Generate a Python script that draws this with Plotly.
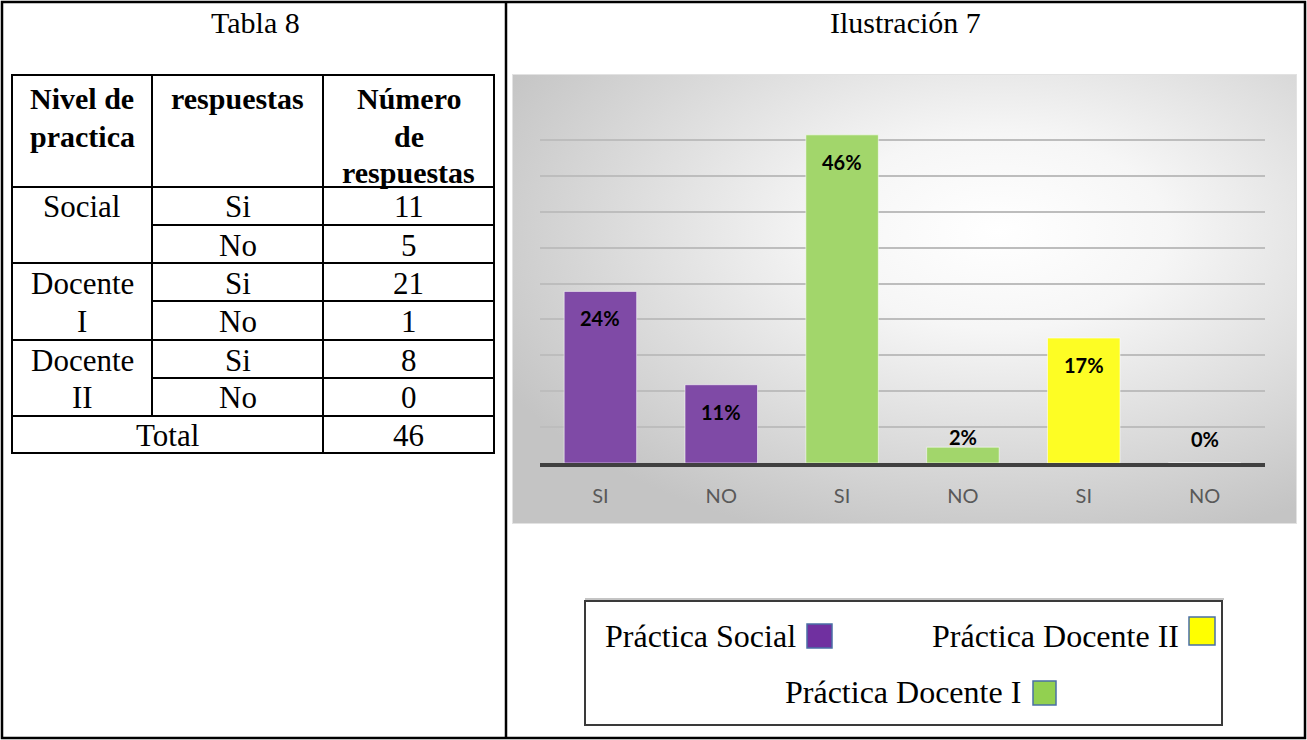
import base64
import plotly.graph_objects as go

# ---------------- data ----------------
tabla_titulo = "Tabla 8"
ilus_titulo = "Ilustración 7"
col_headers = [["Nivel de", "practica"], ["respuestas"], ["Número", "de", "respuestas"]]
niveles = [["Social"], ["Docente", "I"], ["Docente", "II"]]
respuestas = ["Si", "No", "Si", "No", "Si", "No"]
num_respuestas = [11, 5, 21, 1, 8, 0]
total_label = "Total"
total_value = 46

bar_labels = ["SI", "NO", "SI", "NO", "SI", "NO"]
bar_pct = [23.9, 10.9, 45.7, 2.2, 17.4, 0.0]
bar_series = ["Práctica Social", "Práctica Social", "Práctica Docente I",
              "Práctica Docente I", "Práctica Docente II", "Práctica Docente II"]
series_names = ["Práctica Social", "Práctica Docente I", "Práctica Docente II"]
bar_colors = ["#7F4AA6", "#A2D66B", "#FDFD24"]
legend_colors = ["#7030A0", "#92D050", "#FFFF00"]

# ---------------- helpers ----------------
W, H = 1307, 740
def X(p): return p / W
def Y(p): return 1 - p / H

SERIF = "Liberation Serif, Times New Roman, serif"
SANS = "Lato, Open Sans, sans-serif"

shapes, annos = [], []

def line(x0, y0, x1, y1, color="black", width=2):
    shapes.append(dict(type="line", xref="paper", yref="paper",
                       x0=X(x0), y0=Y(y0), x1=X(x1), y1=Y(y1),
                       line=dict(color=color, width=width)))

def rect(x0, y0, x1, y1, color="black", width=2, fill="rgba(0,0,0,0)"):
    shapes.append(dict(type="rect", xref="paper", yref="paper",
                       x0=X(x0), y0=Y(y0), x1=X(x1), y1=Y(y1),
                       line=dict(color=color, width=width), fillcolor=fill))

def text(s, x, y, size=30, bold=False, xanchor="center", family=SERIF, color="black"):
    annos.append(dict(xref="paper", yref="paper", x=X(x), y=Y(y), text=(f"<b>{s}</b>" if bold else s),
                      showarrow=False, xanchor=xanchor, yanchor="middle",
                      font=dict(family=family, size=size, color=color)))

# ---------------- page frame ----------------
rect(2, 2, 1305, 738, width=2.5)
line(506, 2, 506, 738, width=2.5)
text(tabla_titulo, 255, 22, size=30)
text(ilus_titulo, 905, 22, size=30)

# ---------------- table ----------------
cx = [12, 152, 323, 494]
row_tops = [187, 225, 263, 301, 340, 378, 416, 453]
rect(12, 75, 494, 453, width=2)
line(152, 75, 152, 416)
line(323, 75, 323, 453)
for i, yy in enumerate(row_tops[:-1]):
    if i in (0, 2, 4, 6):
        line(12, yy, 494, yy)
    else:
        line(152, yy, 494, yy)

for c, hdr in enumerate(col_headers):
    for k, s in enumerate(hdr):
        text(s, (cx[c] + cx[c + 1]) / 2, 99 + 37 * k, size=30, bold=True)

for g, lines in enumerate(niveles):
    for k, s in enumerate(lines):
        r = 2 * g + k
        text(s, (cx[0] + cx[1]) / 2, (row_tops[r] + row_tops[r + 1]) / 2 + 1, size=31)
for r, (a, n) in enumerate(zip(respuestas, num_respuestas)):
    cy = (row_tops[r] + row_tops[r + 1]) / 2 + 1
    text(a, (cx[1] + cx[2]) / 2, cy, size=31)
    text(str(n), (cx[2] + cx[3]) / 2, cy, size=31)
cy = (row_tops[6] + row_tops[7]) / 2 + 1
text(total_label, (cx[0] + cx[2]) / 2, cy, size=31)
text(str(total_value), (cx[2] + cx[3]) / 2, cy, size=31)

# ---------------- chart background (radial gradient) ----------------
bw, bh = 785, 450
svg = f'''<svg xmlns="http://www.w3.org/2000/svg" width="{bw}" height="{bh}" viewBox="0 0 {bw} {bh}" preserveAspectRatio="none">
<defs><radialGradient id="g" cx="0.62" cy="0.35" r="0.72" gradientUnits="objectBoundingBox">
<stop offset="0" stop-color="#FFFFFF"/><stop offset="0.3" stop-color="#F6F6F6"/><stop offset="1" stop-color="#C4C4C4"/>
</radialGradient></defs>
<rect x="0" y="0" width="{bw}" height="{bh}" fill="url(#g)"/>
<rect x="0.5" y="0.5" width="{bw-1}" height="{bh-1}" fill="none" stroke="#E2E2E2" stroke-width="1"/>
</svg>'''
src = "data:image/svg+xml;base64," + base64.b64encode(svg.encode()).decode()
images = [dict(source=src, xref="paper", yref="paper", x=X(512), y=Y(74),
               sizex=bw / W, sizey=bh / H, sizing="stretch", layer="below",
               xanchor="left", yanchor="top")]

# ---------------- bars ----------------
fig = go.Figure()
for name, col in zip(series_names, bar_colors):
    xs = [i for i, s in enumerate(bar_series) if s == name]
    ys = [bar_pct[i] for i in xs]
    fig.add_trace(go.Bar(x=xs, y=ys, name=name, width=0.6, showlegend=False,
                         marker=dict(color=col, line=dict(color="rgba(255,255,255,0.55)", width=1)),
                         hoverinfo="skip"))

for i, v in enumerate(bar_pct):
    lab = f"{round(v):.0f}%"
    if v >= 5:
        annos.append(dict(xref="x", yref="y", x=i, y=v, yshift=-27, text=f"<b>{lab}</b>",
                          showarrow=False, yanchor="middle",
                          font=dict(family=SANS, size=20, color="black")))
    else:
        annos.append(dict(xref="x", yref="y", x=i, y=max(v, 2), yshift=10, text=f"<b>{lab}</b>",
                          showarrow=False, yanchor="middle",
                          font=dict(family=SANS, size=20, color="black")))

# ---------------- custom legend ----------------
rect(585, 601, 1222, 725, color="#3A3A3A", width=2)
line(585, 599, 1224, 599, color="#B0B0B0", width=1.5)
leg_pos = {  # text right edge, text y, square box
    "Práctica Social": (798, 636, (807, 624, 832, 648)),
    "Práctica Docente II": (1181, 636, (1189, 617, 1215, 645)),
    "Práctica Docente I": (1023, 692, (1033, 681, 1056, 705)),
}
for name, col in zip(series_names, legend_colors):
    tx, ty, (a, b, c, d) = leg_pos[name]
    text(name, tx, ty, size=32, xanchor="right")
    rect(a, b, c, d, color="#4A6FA5", width=1.5, fill=col)

fig.update_layout(
    width=W, height=H, margin=dict(l=0, r=0, t=0, b=0),
    paper_bgcolor="white", plot_bgcolor="rgba(0,0,0,0)",
    barmode="overlay", showlegend=False,
    shapes=shapes, annotations=annos, images=images,
    xaxis=dict(domain=[X(540), X(1265)], range=[-0.5, 5.5],
               tickvals=list(range(len(bar_labels))), ticktext=bar_labels,
               showline=True, linewidth=4, linecolor="#404040", ticks="",
               showgrid=False, zeroline=False, ticklabelstandoff=12,
               tickfont=dict(family=SANS, size=20, color="#595959"), fixedrange=True),
    yaxis=dict(domain=[Y(463), Y(104)], range=[0, 50], dtick=5,
               showgrid=True, gridcolor="#BDBDBD", gridwidth=1.5,
               showticklabels=False, zeroline=False, ticks="", fixedrange=True),
)

fig.write_html("out.html", config={"displayModeBar": False},
               post_script="document.body.style.margin='0';document.body.style.overflow='hidden';")
